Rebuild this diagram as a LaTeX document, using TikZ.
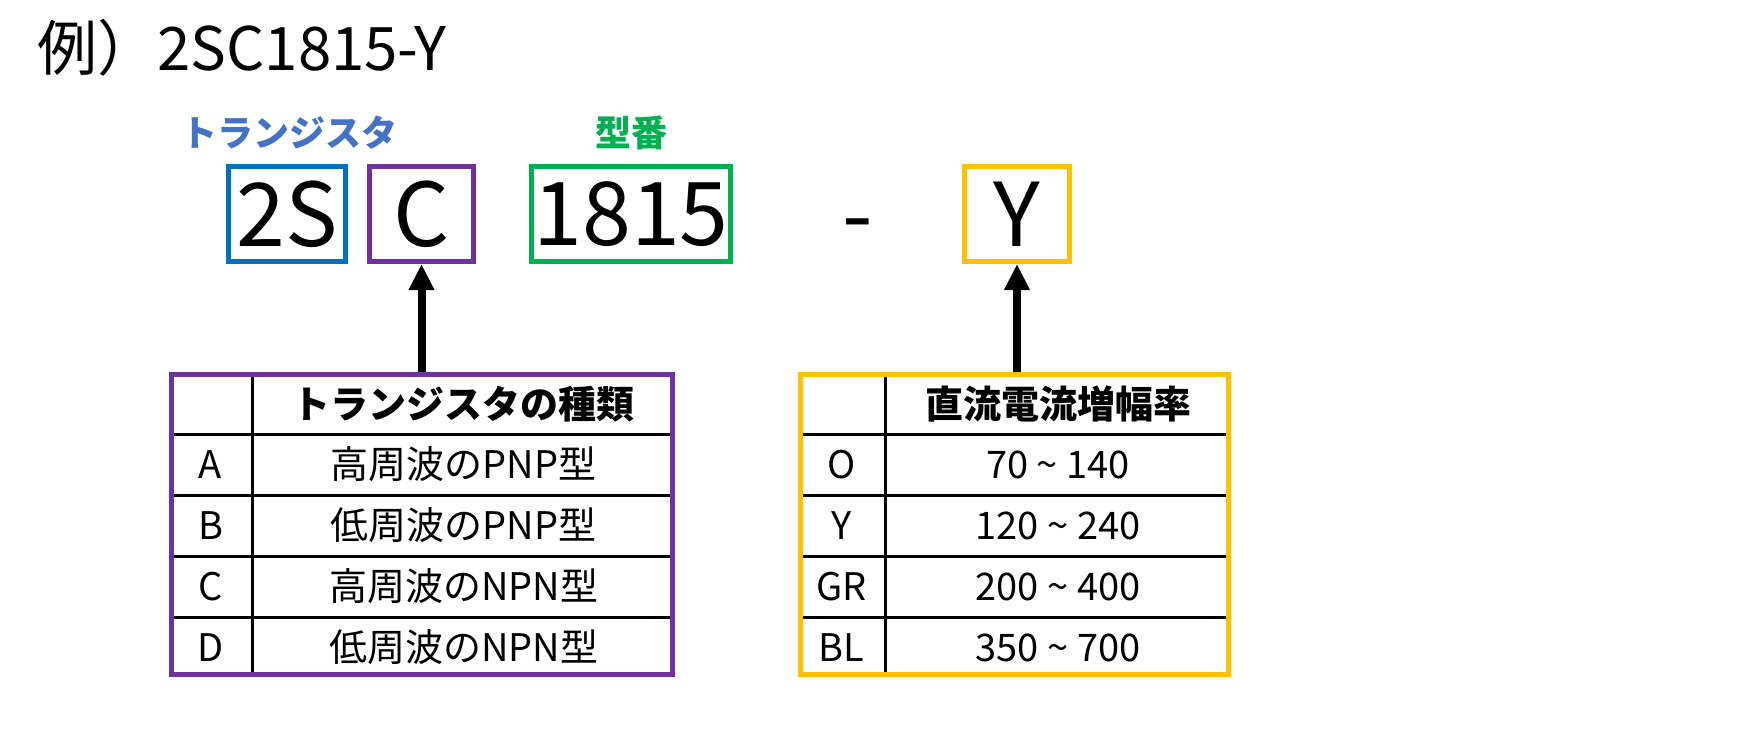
\documentclass[tikz,border=0pt]{standalone}
\usepackage{fontspec}
\setmainfont{Noto Sans CJK JP}
\usetikzlibrary{arrows.meta,positioning}
\definecolor{partblue}{HTML}{0070C0}
\definecolor{labelblue}{HTML}{4472C4}
\definecolor{partpurple}{HTML}{7030A0}
\definecolor{partgreen}{HTML}{00B050}
\definecolor{partyellow}{HTML}{FFC000}

\tikzset{
  part/.style={draw=#1,line width=2.5pt,minimum height=47.5pt,inner sep=0pt,
    font=\fontsize{44pt}{44pt}\selectfont},
  tag/.style={text=#1,anchor=base,inner sep=0pt,
    font=\fontsize{18pt}{18pt}\selectfont\bfseries},
  tabframe/.style={draw=#1,line width=2.5pt,minimum width=250.5pt,minimum height=150pt,inner sep=0pt},
  grid/.style={line width=1.5pt},
  cell/.style={inner sep=0pt,font=\fontsize{19pt}{19pt}\selectfont},
  head/.style={cell,font=\fontsize{19pt}{19pt}\selectfont\bfseries},
  pointer/.style={-{Triangle[width=12pt,length=13pt]},line width=4pt}
}

\begin{document}
\begin{tikzpicture}[x=0.5pt,y=-0.5pt]
  \useasboundingbox (0,0) rectangle (1746,730);
  \node[anchor=base west,inner sep=0pt,font=\fontsize{30pt}{30pt}\selectfont] (title) at (37,70) {例）2SC1815-Y};

  % part number boxes
  \node[part=partblue,minimum width=58.5pt] (s2) at (287,214) {2S};
  \node[part=partpurple,minimum width=52pt] (c) [right=9.5pt of s2] {C};
  \node[part=partgreen,minimum width=99.5pt] (num) [right=26.5pt of c] {1815};
  \node[anchor=base,inner sep=0pt,font=\fontsize{44pt}{44pt}\selectfont] (dash) at (858,246) {-};
  \node[part=partyellow,minimum width=52.5pt] (y) at (1017,214) {Y};
  \node[tag=labelblue] (tr) at (289,146) {トランジスタ};
  \node[tag=partgreen] (kata) at (631,146) {型番};

  % table of transistor types
  \draw[grid] (252,374.5) -- (252,674.5);
  \foreach \y in {434,495,556,617}
    \draw[grid] (169,\y) -- (675,\y);
  \node[tabframe=partpurple] (tabC) at (422,524.5) {};
  \node[head] (hC) at (463.5,404) {トランジスタの種類};
  \foreach \k/\t [count=\i] in {A/高周波のPNP型,B/低周波のPNP型,C/高周波のNPN型,D/低周波のNPN型}
  {
    \node[cell] (kC\i) at (210.5,403.5+61*\i) {\k};
    \node[cell] (vC\i) at (463.5,403.5+61*\i) {\t};
  }

  % table of current gain
  \draw[grid] (885,374.5) -- (885,674.5);
  \foreach \y in {434,495,556,617}
    \draw[grid] (798,\y) -- (1231,\y);
  \node[tabframe=partyellow,minimum width=214pt] (tabY) at (1014.5,524.5) {};
  \node[head] (hY) at (1058,404) {直流電流増幅率};
  \foreach \k/\t [count=\i] in {O/70 \textasciitilde{} 140,Y/120 \textasciitilde{} 240,GR/200 \textasciitilde{} 400,BL/350 \textasciitilde{} 700}
  {
    \node[cell] (kY\i) at (841.5,403.5+61*\i) {\k};
    \node[cell] (vY\i) at (1058,403.5+61*\i) {\t};
  }

  \draw[pointer] (c.south |- tabC.north) -- (c.south);
  \draw[pointer] (y.south |- tabY.north) -- (y.south);
\end{tikzpicture}
\end{document}
